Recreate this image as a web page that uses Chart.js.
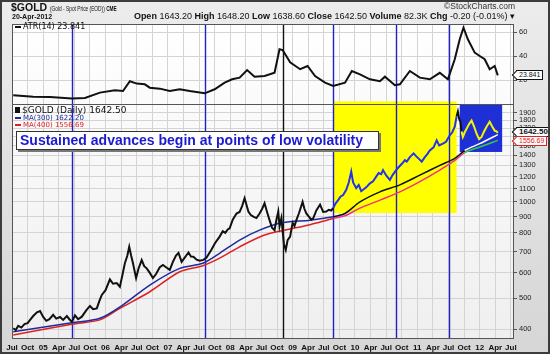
<!DOCTYPE html>
<html lang="en">
<head>
    <meta charset="UTF-8">
    <title>$GOLD (Gold - Spot Price (EOD))</title>
    <style>
        body {
            margin: 0;
            padding: 0;
            background: #ffffff;
        }

        .frame {
            position: relative;
            width: 550px;
            height: 354px;
            background: linear-gradient(#ececec, #d6d6d6);
            overflow: hidden;
            font-family: 'Liberation Sans', Arial, sans-serif;
            color: #111;
        }

        .frame::after {
            content: '';
            position: absolute;
            left: 0; top: 0; right: 0; bottom: 0;
            border: 2px solid #3c3c3c;
            pointer-events: none;
        }

        canvas {
            position: absolute;
            left: 0;
            top: 0;
        }

        .txt {
            position: absolute;
            white-space: nowrap;
            line-height: 1;
        }

        #title { left: 11px; top: 2px; font-size: 10.5px; font-weight: bold; }
        #title .sub {
            display: inline-block;
            font-size: 6.5px;
            font-weight: normal;
            transform: scaleX(0.74);
            transform-origin: left center;
        }
        #date { left: 12px; top: 13px; font-size: 7px; font-weight: bold; }
        #quote { right: 35px; top: 12px; font-size: 9px; }
        #credit { right: 35px; top: 2px; font-size: 8.5px; color: #333; }

        .legend { font-family: 'DejaVu Sans', Verdana, sans-serif; }
        .dash {
            display: inline-block;
            width: 6px;
            height: 2px;
            margin-right: 2px;
            vertical-align: middle;
        }
        #atrLegend { left: 15px; top: 23px; font-size: 8px; }
        #priceLegend { left: 15px; top: 106px; font-size: 9px; }
        #ma300Legend { left: 15px; top: 115px; font-size: 7px; color: #1c2a9c; }
        #ma400Legend { left: 15px; top: 122px; font-size: 7px; color: #e02020; }
        .icon {
            display: inline-block;
            width: 5px;
            height: 6px;
            background: #111;
            margin-right: 2px;
        }

        #note {
            position: absolute;
            left: 16px;
            top: 131px;
            width: 358px;
            height: 17px;
            background: #ffffff;
            border: 1px solid #333;
            box-shadow: 2px 2px 0 #777;
            color: #1a1ad2;
            font-size: 14px;
            font-weight: bold;
            line-height: 17px;
            padding-left: 3px;
            white-space: nowrap;
        }

        .tag {
            position: absolute;
            left: 516px;
            height: 8px;
            padding: 0 2px;
            background: #fff;
            border: 1px solid #111;
            font-size: 7px;
            line-height: 8px;
            white-space: nowrap;
        }
        .tag::before {
            content: '';
            position: absolute;
            left: -4px;
            top: 1px;
            width: 5px;
            height: 5px;
            background: #fff;
            border-left: 1px solid #111;
            border-bottom: 1px solid #111;
            transform: rotate(45deg);
        }
        .tag.bold { font-weight: bold; font-size: 8px; }
        .tag.red { color: #e02020; border-color: #e02020; }
        .tag.red::before { border-color: #e02020; }
    </style>
    <script src="https://cdn.jsdelivr.net/npm/chart.js"></script>
</head>
<body>
    <div class="frame">
        <canvas id="goldChart" width="550" height="354"></canvas>

        <div class="txt" id="title">$GOLD <span class="sub">(Gold - Spot Price (EOD)) <b>CME</b></span></div>
        <div class="txt" id="date">20-Apr-2012</div>
        <div class="txt" id="quote"><b>Open</b> 1643.20 <b>High</b> 1648.20 <b>Low</b> 1638.60 <b>Close</b> 1642.50 <b>Volume</b> 82.3K <b>Chg</b> -0.20 (-0.01%) &#9662;</div>
        <div class="txt" id="credit">&copy;StockCharts.com</div>

        <div class="txt legend" id="atrLegend"><span class="dash" style="background:#111"></span>ATR(14) <span id="atrLast"></span></div>
        <div class="txt legend" id="priceLegend"><span class="icon"></span>$GOLD (Daily) <span id="priceLast"></span></div>
        <div class="txt legend" id="ma300Legend"><span class="dash" style="background:#1c2a9c"></span>MA(300) <span id="ma300Last"></span></div>
        <div class="txt legend" id="ma400Legend"><span class="dash" style="background:#e02020"></span>MA(400) <span id="ma400Last"></span></div>

        <div id="note">Sustained advances begin at points of low volatility</div>

        <div class="tag" id="atrTag"></div>
        <div class="tag bold" id="closeTag"></div>
        <div class="tag red" id="maTag"></div>
    </div>

    <script>
        // dates are decimal years
        const priceDates = [2004.52, 2004.56, 2004.60, 2004.65, 2004.70, 2004.75, 2004.79, 2004.84, 2004.90, 2004.95,
            2005.00, 2005.05, 2005.10, 2005.16, 2005.21, 2005.27, 2005.32, 2005.38, 2005.42, 2005.46,
            2005.51, 2005.56, 2005.62, 2005.69, 2005.75, 2005.80, 2005.86, 2005.90, 2005.94, 2006.00,
            2006.07, 2006.12, 2006.18, 2006.23, 2006.27, 2006.31, 2006.35, 2006.38, 2006.41, 2006.44,
            2006.49, 2006.53, 2006.58, 2006.62, 2006.66, 2006.71, 2006.76, 2006.81, 2006.87, 2006.92,
            2006.97, 2007.03, 2007.08, 2007.13, 2007.17, 2007.22, 2007.27, 2007.33, 2007.37, 2007.41,
            2007.46, 2007.51, 2007.57, 2007.62, 2007.66, 2007.70, 2007.75, 2007.79, 2007.83, 2007.88,
            2007.92, 2007.96, 2007.99, 2008.04, 2008.10, 2008.15, 2008.19, 2008.23, 2008.26, 2008.29,
            2008.33, 2008.37, 2008.42, 2008.47, 2008.51, 2008.55, 2008.59, 2008.63, 2008.67, 2008.71,
            2008.74, 2008.77, 2008.79, 2008.82, 2008.86, 2008.89, 2008.92, 2008.96, 2009.00, 2009.03,
            2009.06, 2009.10, 2009.16, 2009.19, 2009.22, 2009.26, 2009.30, 2009.33, 2009.38, 2009.41,
            2009.44, 2009.49, 2009.54, 2009.58, 2009.62, 2009.65, 2009.69, 2009.73, 2009.77, 2009.81,
            2009.86, 2009.90, 2009.94, 2009.97, 2010.02, 2010.06, 2010.10, 2010.13, 2010.18, 2010.24,
            2010.29, 2010.34, 2010.38, 2010.42, 2010.45, 2010.50, 2010.56, 2010.60, 2010.66, 2010.71,
            2010.76, 2010.80, 2010.83, 2010.88, 2010.94, 2010.98, 2011.03, 2011.07, 2011.12, 2011.16,
            2011.20, 2011.26, 2011.31, 2011.35, 2011.41, 2011.46, 2011.52, 2011.56, 2011.60, 2011.63,
            2011.65, 2011.67, 2011.69, 2011.71, 2011.73, 2011.76, 2011.79, 2011.83, 2011.87, 2011.91,
            2011.95, 2011.99, 2012.03, 2012.07, 2012.11, 2012.16, 2012.20, 2012.24, 2012.27, 2012.29];
        const priceValues = [403, 398, 410, 405, 415, 418, 428, 440, 452, 456,
            437, 425, 430, 444, 432, 437, 428, 440, 430, 422,
            442, 430, 438, 458, 473, 462, 465, 490, 512, 530,
            573, 555, 558, 543, 590, 643, 680, 724, 680, 643,
            578, 620, 658, 630, 620, 600, 578, 595, 625, 635,
            625, 613, 650, 680, 693, 650, 670, 695, 675, 674,
            660, 655, 659, 670, 690, 710, 740, 760, 779, 810,
            800, 820, 827, 880, 920, 930, 970, 1027, 980, 933,
            910, 899, 890, 920, 950, 990, 930, 877, 830, 816,
            880, 933, 838, 890, 739, 708, 760, 779, 860, 840,
            877, 920, 1000, 950, 920, 900, 880, 888, 940, 960,
            980, 930, 933, 945, 940, 956, 990, 1013, 1040, 1050,
            1091, 1150, 1243, 1150, 1104, 1130, 1080, 1091, 1110, 1143,
            1160, 1199, 1230, 1220, 1257, 1210, 1171, 1210, 1257, 1290,
            1320, 1350, 1336, 1380, 1418, 1390, 1360, 1336, 1380, 1410,
            1447, 1480, 1557, 1500, 1520, 1540, 1614, 1650, 1717, 1850,
            1913, 1820, 1780, 1660, 1595, 1650, 1692, 1750, 1795, 1720,
            1633, 1570, 1595, 1660, 1717, 1780, 1720, 1670, 1660, 1642.50];

        const ma300Dates = [2004.52, 2005.46, 2005.91, 2006.28, 2006.71, 2007.19, 2007.56, 2007.83, 2008.15, 2008.47,
            2008.84, 2009.28, 2009.65, 2009.84, 2010.08, 2010.40, 2010.72, 2011.04, 2011.36, 2011.60,
            2011.76, 2012.00, 2012.29];
        const ma300Values = [393, 419, 433, 477, 550, 620, 643, 691, 760, 816,
            862, 877, 899, 920, 1000, 1075, 1130, 1212, 1300, 1367,
            1447, 1520, 1622.20];

        const ma400Dates = [2004.52, 2005.46, 2005.91, 2006.23, 2006.71, 2007.19, 2007.56, 2007.83, 2008.15, 2008.55,
            2008.87, 2009.28, 2009.65, 2009.84, 2010.08, 2010.40, 2010.72, 2011.04, 2011.36, 2011.60,
            2011.76, 2012.00, 2012.29];
        const ma400Values = [384, 415, 428, 465, 524, 605, 632, 667, 724, 788,
            816, 849, 888, 905, 956, 1013, 1075, 1157, 1257, 1347,
            1425, 1484, 1556.69];

        const atrDates = [2004.52, 2004.84, 2005.11, 2005.46, 2005.67, 2005.91, 2006.15, 2006.28, 2006.39, 2006.50,
            2006.63, 2006.71, 2006.87, 2007.03, 2007.19, 2007.35, 2007.59, 2007.75, 2007.91, 2008.03,
            2008.15, 2008.27, 2008.39, 2008.55, 2008.71, 2008.79, 2008.84, 2008.96, 2009.12, 2009.24,
            2009.36, 2009.52, 2009.65, 2009.84, 2009.95, 2010.08, 2010.24, 2010.40, 2010.48, 2010.64,
            2010.72, 2010.88, 2011.04, 2011.20, 2011.36, 2011.49, 2011.60, 2011.68, 2011.74, 2011.81,
            2011.92, 2012.00, 2012.08, 2012.16, 2012.24, 2012.29];
        const atrValues = [7.2, 6, 5.8, 4.5, 5, 9.5, 11.4, 10.8, 19, 17,
            16.4, 13.6, 12.8, 10.8, 12.3, 10.8, 8.9, 12.3, 17.8, 20.6,
            22, 28.3, 22.8, 23.3, 26, 45.6, 45, 34.7, 29, 31.7,
            23.3, 17.8, 15, 17.8, 27.5, 24.7, 20.6, 19, 22.8, 15.6,
            16.4, 27.5, 22, 20.6, 26, 20.6, 37.3, 54, 63.6, 54,
            42.8, 40, 37.3, 29, 31.7, 23.841];

        // x axis: one label per quarter starting Jul 2004
        const xTickStart = 2004.5;
        const xTickStep = 0.25;
        const xTickLabels = ['Jul', 'Oct', '05', 'Apr', 'Jul', 'Oct', '06', 'Apr', 'Jul', 'Oct', '07', 'Apr', 'Jul',
            'Oct', '08', 'Apr', 'Jul', 'Oct', '09', 'Apr', 'Jul', 'Oct', '10', 'Apr', 'Jul', 'Oct', '11',
            'Apr', 'Jul', 'Oct', '12', 'Apr', 'Jul'];
        const priceTicks = [400, 500, 600, 700, 800, 900, 1000, 1100, 1200, 1300, 1400, 1500, 1600, 1700, 1800, 1900];
        const atrTicks = [20, 40, 60];

        // vertical marker lines and the two highlighted zones
        const markerDates = [2005.47, 2007.60, 2008.84, 2009.64, 2010.66, 2011.50];
        const markerColors = ['#2020c8', '#2020c8', '#111111', '#2020c8', '#2020c8', '#2020c8'];
        const yellowZone = [2009.65, 2011.63, 923, 2060];   // x from, x to, price low, price high
        const blueZone = [2011.68, 2012.36, 1432, 2022];

        const toPoints = (xs, ys) => xs.map((x, i) => ({ x: x, y: ys[i] }));

        // colour of a line depends on which zone its segment sits in
        function zoned(before, inYellow, gap, inBlue) {
            return ctx => {
                const x = ctx.p0.parsed.x;
                if (x < yellowZone[0]) return before;
                if (x < yellowZone[1] - 0.01) return inYellow;
                if (x < blueZone[0] + 0.02) return gap;
                return inBlue;
            };
        }

        const chartDecor = {
            id: 'chartDecor',
            beforeDraw(chart) {
                const { ctx, chartArea: a } = chart;
                const g = ctx.createLinearGradient(0, a.top, 0, a.bottom);
                g.addColorStop(0, '#ffffff');
                g.addColorStop(1, '#efefef');
                ctx.save();
                ctx.fillStyle = g;
                ctx.fillRect(a.left, a.top, a.right - a.left, a.bottom - a.top);
                ctx.restore();
            },
            beforeDatasetsDraw(chart) {
                const { ctx, chartArea: a, scales } = chart;
                const xs = scales.x, ps = scales.price;
                ctx.save();
                ctx.beginPath();
                ctx.rect(a.left, a.top, a.right - a.left, a.bottom - a.top);
                ctx.clip();
                [[yellowZone, '#ffff00'], [blueZone, '#1f2fd6']].forEach(([z, c]) => {
                    const x0 = xs.getPixelForValue(z[0]), x1 = xs.getPixelForValue(z[1]);
                    const y0 = ps.getPixelForValue(z[3]), y1 = ps.getPixelForValue(z[2]);
                    ctx.fillStyle = c;
                    ctx.fillRect(x0, y0, x1 - x0, y1 - y0);
                });
                ctx.lineWidth = 1.4;
                markerDates.forEach((d, i) => {
                    const px = Math.round(xs.getPixelForValue(d)) + 0.5;
                    ctx.strokeStyle = markerColors[i];
                    ctx.beginPath();
                    ctx.moveTo(px, a.top);
                    ctx.lineTo(px, a.bottom);
                    ctx.stroke();
                });
                ctx.restore();
            },
            afterDraw(chart) {
                const { ctx, chartArea: a, scales } = chart;
                ctx.save();
                ctx.strokeStyle = '#555';
                ctx.lineWidth = 1;
                ctx.strokeRect(a.left + 0.5, a.top + 0.5, a.right - a.left - 1, a.bottom - a.top - 1);
                const yDiv = Math.round(scales.atr.bottom) + 0.5;
                ctx.beginPath();
                ctx.moveTo(a.left, yDiv);
                ctx.lineTo(a.right, yDiv);
                ctx.stroke();
                ctx.restore();
            }
        };

        const gridColor = '#d4d4d4';
        const tickFont = { family: 'Liberation Sans', size: 7.5 };

        const goldChart = new Chart(document.getElementById('goldChart'), {
            type: 'line',
            data: {
                datasets: [
                    {
                        label: '$GOLD',
                        data: toPoints(priceDates, priceValues),
                        yAxisID: 'price',
                        borderColor: '#111',
                        borderWidth: 2,
                        pointRadius: 0,
                        tension: 0,
                        segment: { borderColor: zoned('#111111', '#2233ee', '#111111', '#f4f400') }
                    },
                    {
                        label: 'MA(300)',
                        data: toPoints(ma300Dates, ma300Values),
                        yAxisID: 'price',
                        borderColor: '#1c2a9c',
                        borderWidth: 1.5,
                        pointRadius: 0,
                        tension: 0.3,
                        segment: { borderColor: zoned('#1c2a9c', '#111111', '#111111', '#ffffff') }
                    },
                    {
                        label: 'MA(400)',
                        data: toPoints(ma400Dates, ma400Values),
                        yAxisID: 'price',
                        borderColor: '#e02020',
                        borderWidth: 1.5,
                        pointRadius: 0,
                        tension: 0.3,
                        segment: { borderColor: zoned('#e02020', '#ee3388', '#e02020', '#33cc44') }
                    },
                    {
                        label: 'ATR(14)',
                        data: toPoints(atrDates, atrValues),
                        yAxisID: 'atr',
                        borderColor: '#111',
                        borderWidth: 2,
                        pointRadius: 0,
                        tension: 0
                    }
                ]
            },
            options: {
                responsive: false,
                animation: false,
                layout: { padding: { left: 12, top: 24, right: 0, bottom: 0 } },
                plugins: {
                    legend: { display: false },
                    tooltip: { enabled: false }
                },
                scales: {
                    x: {
                        type: 'linear',
                        min: xTickStart,
                        max: 2012.55,
                        afterBuildTicks: s => { s.ticks = xTickLabels.map((l, i) => ({ value: xTickStart + i * xTickStep })); },
                        afterFit: s => { s.height = 15; },
                        grid: { color: gridColor, drawTicks: false },
                        border: { display: false },
                        ticks: {
                            autoSkip: false,
                            maxRotation: 0,
                            padding: 4,
                            color: '#111',
                            font: { family: 'Liberation Sans', size: 8, weight: 'bold' },
                            callback: (v, i) => xTickLabels[i]
                        }
                    },
                    atr: {
                        type: 'linear',
                        position: 'right',
                        stack: 'panels',
                        stackWeight: 80,
                        min: 0,
                        max: 66.7,
                        afterBuildTicks: s => { s.ticks = atrTicks.map(v => ({ value: v })); },
                        afterFit: s => { s.width = 36; },
                        grid: { color: gridColor, tickLength: 3, tickColor: '#555' },
                        border: { display: false },
                        ticks: { autoSkip: false, padding: 2, color: '#222', font: tickFont }
                    },
                    price: {
                        type: 'logarithmic',
                        position: 'right',
                        stack: 'panels',
                        stackWeight: 235,
                        min: 373,
                        max: 2022,
                        afterBuildTicks: s => { s.ticks = priceTicks.map(v => ({ value: v })); },
                        afterFit: s => { s.width = 36; },
                        grid: { color: gridColor, tickLength: 3, tickColor: '#555' },
                        border: { display: false },
                        ticks: { autoSkip: false, padding: 2, color: '#222', font: tickFont, callback: v => String(v) }
                    }
                }
            },
            plugins: [chartDecor]
        });

        // legends and right-hand value tags, placed from the scales
        const lastAtr = atrValues[atrValues.length - 1];
        const lastPrice = priceValues[priceValues.length - 1];
        const lastMa300 = ma300Values[ma300Values.length - 1];
        const lastMa400 = ma400Values[ma400Values.length - 1];
        document.getElementById('atrLast').textContent = lastAtr.toFixed(3);
        document.getElementById('priceLast').textContent = lastPrice.toFixed(2);
        document.getElementById('ma300Last').textContent = lastMa300.toFixed(2);
        document.getElementById('ma400Last').textContent = lastMa400.toFixed(2);

        function placeTag(id, text, y) {
            const el = document.getElementById(id);
            el.textContent = text;
            el.style.top = (y - 5) + 'px';
        }
        placeTag('atrTag', lastAtr.toFixed(3), goldChart.scales.atr.getPixelForValue(lastAtr));
        placeTag('maTag', lastMa400.toFixed(2), goldChart.scales.price.getPixelForValue(lastMa400) + 1);
        placeTag('closeTag', lastPrice.toFixed(2), goldChart.scales.price.getPixelForValue(lastPrice) - 1);
    </script>
</body>
</html>
